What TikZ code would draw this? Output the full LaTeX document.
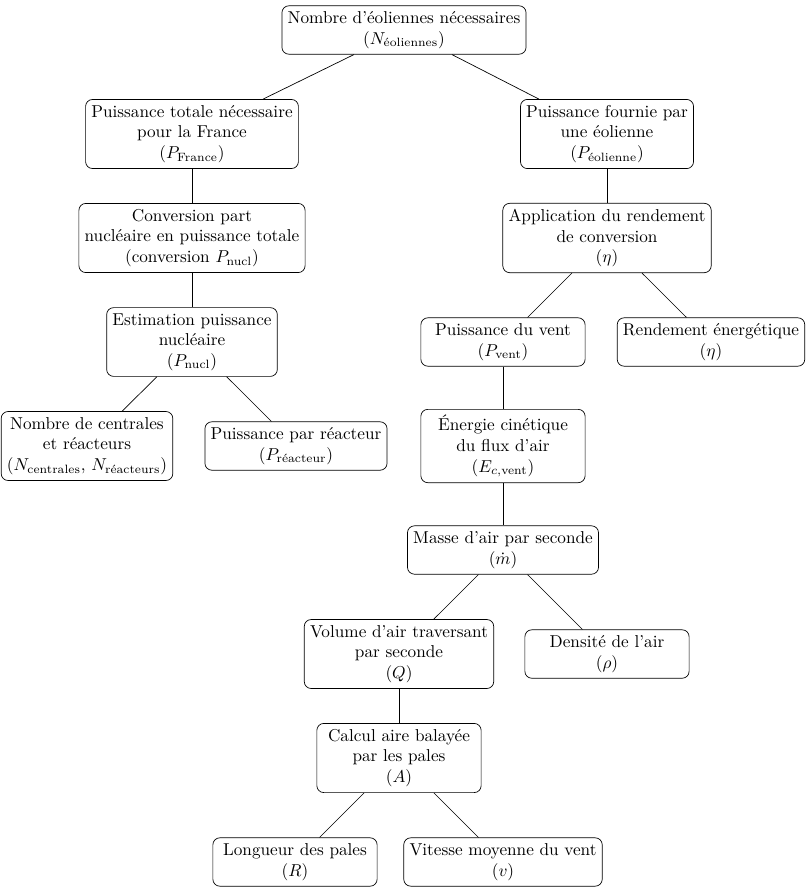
\documentclass[tikz,border=0pt]{standalone}
\usepackage{amsmath}
\usepackage{fontspec}
\newcommand{\sbf}[1]{\text{#1}}
\begin{document}
\begin{tikzpicture}[x=0.5814pt,y=-0.5814pt,
  box/.style={draw, rounded corners=4pt, align=center, inner sep=0.3333em, minimum width=95.5pt},
  link/.style={draw}]
\useasboundingbox (0,0) rectangle (810,893);
\node[box] (root) at (404,30) {Nombre d’éoliennes nécessaires\\($N_{\sbf{éoliennes}}$)};
\node[box] (ptot) at (192,134) {Puissance totale nécessaire\\pour la France\\($P_{\sbf{France}}$)};
\node[box] (pfour) at (607,134) {Puissance fournie par\\une éolienne\\($P_{\sbf{éolienne}}$)};
\node[box] (conv) at (192,238) {Conversion part\\nucléaire en puissance totale\\(conversion $P_{\sbf{nucl}}$)};
\node[box] (appl) at (607,238) {Application du rendement\\de conversion\\($\eta$)};
\node[box] (estim) at (192,342) {Estimation puissance\\nucléaire\\($P_{\sbf{nucl}}$)};
\node[box] (pvent) at (503,342) {Puissance du vent\\($P_{\sbf{vent}}$)};
\node[box] (rend) at (711,342) {Rendement énergétique\\($\eta$)};
\node[box] (ncent) at (87,446) {Nombre de centrales\\et réacteurs\\($N_{\sbf{centrales}}$, $N_{\sbf{réacteurs}}$)};
\node[box] (preac) at (296,446) {Puissance par réacteur\\($P_{\sbf{réacteur}}$)};
\node[box] (ecin) at (503,446) {Énergie cinétique\\du flux d’air\\($E_{c,\sbf{vent}}$)};
\node[box] (masse) at (503,550) {Masse d’air par seconde\\($\dot{m}$)};
\node[box] (vol) at (399,654) {Volume d’air traversant\\par seconde\\($Q$)};
\node[box] (dens) at (607,654) {Densité de l’air\\($\rho$)};
\node[box] (calc) at (399,758) {Calcul aire balayée\\par les pales\\($A$)};
\node[box] (long) at (295,862) {Longueur des pales\\($R$)};
\node[box] (vit) at (503,862) {Vitesse moyenne du vent\\($v$)};
\draw[link] (root) -- (ptot);
\draw[link] (root) -- (pfour);
\draw[link] (ptot) -- (conv);
\draw[link] (conv) -- (estim);
\draw[link] (estim) -- (ncent);
\draw[link] (estim) -- (preac);
\draw[link] (pfour) -- (appl);
\draw[link] (appl) -- (pvent);
\draw[link] (appl) -- (rend);
\draw[link] (pvent) -- (ecin);
\draw[link] (ecin) -- (masse);
\draw[link] (masse) -- (vol);
\draw[link] (masse) -- (dens);
\draw[link] (vol) -- (calc);
\draw[link] (calc) -- (long);
\draw[link] (calc) -- (vit);
\end{tikzpicture}
\end{document}
